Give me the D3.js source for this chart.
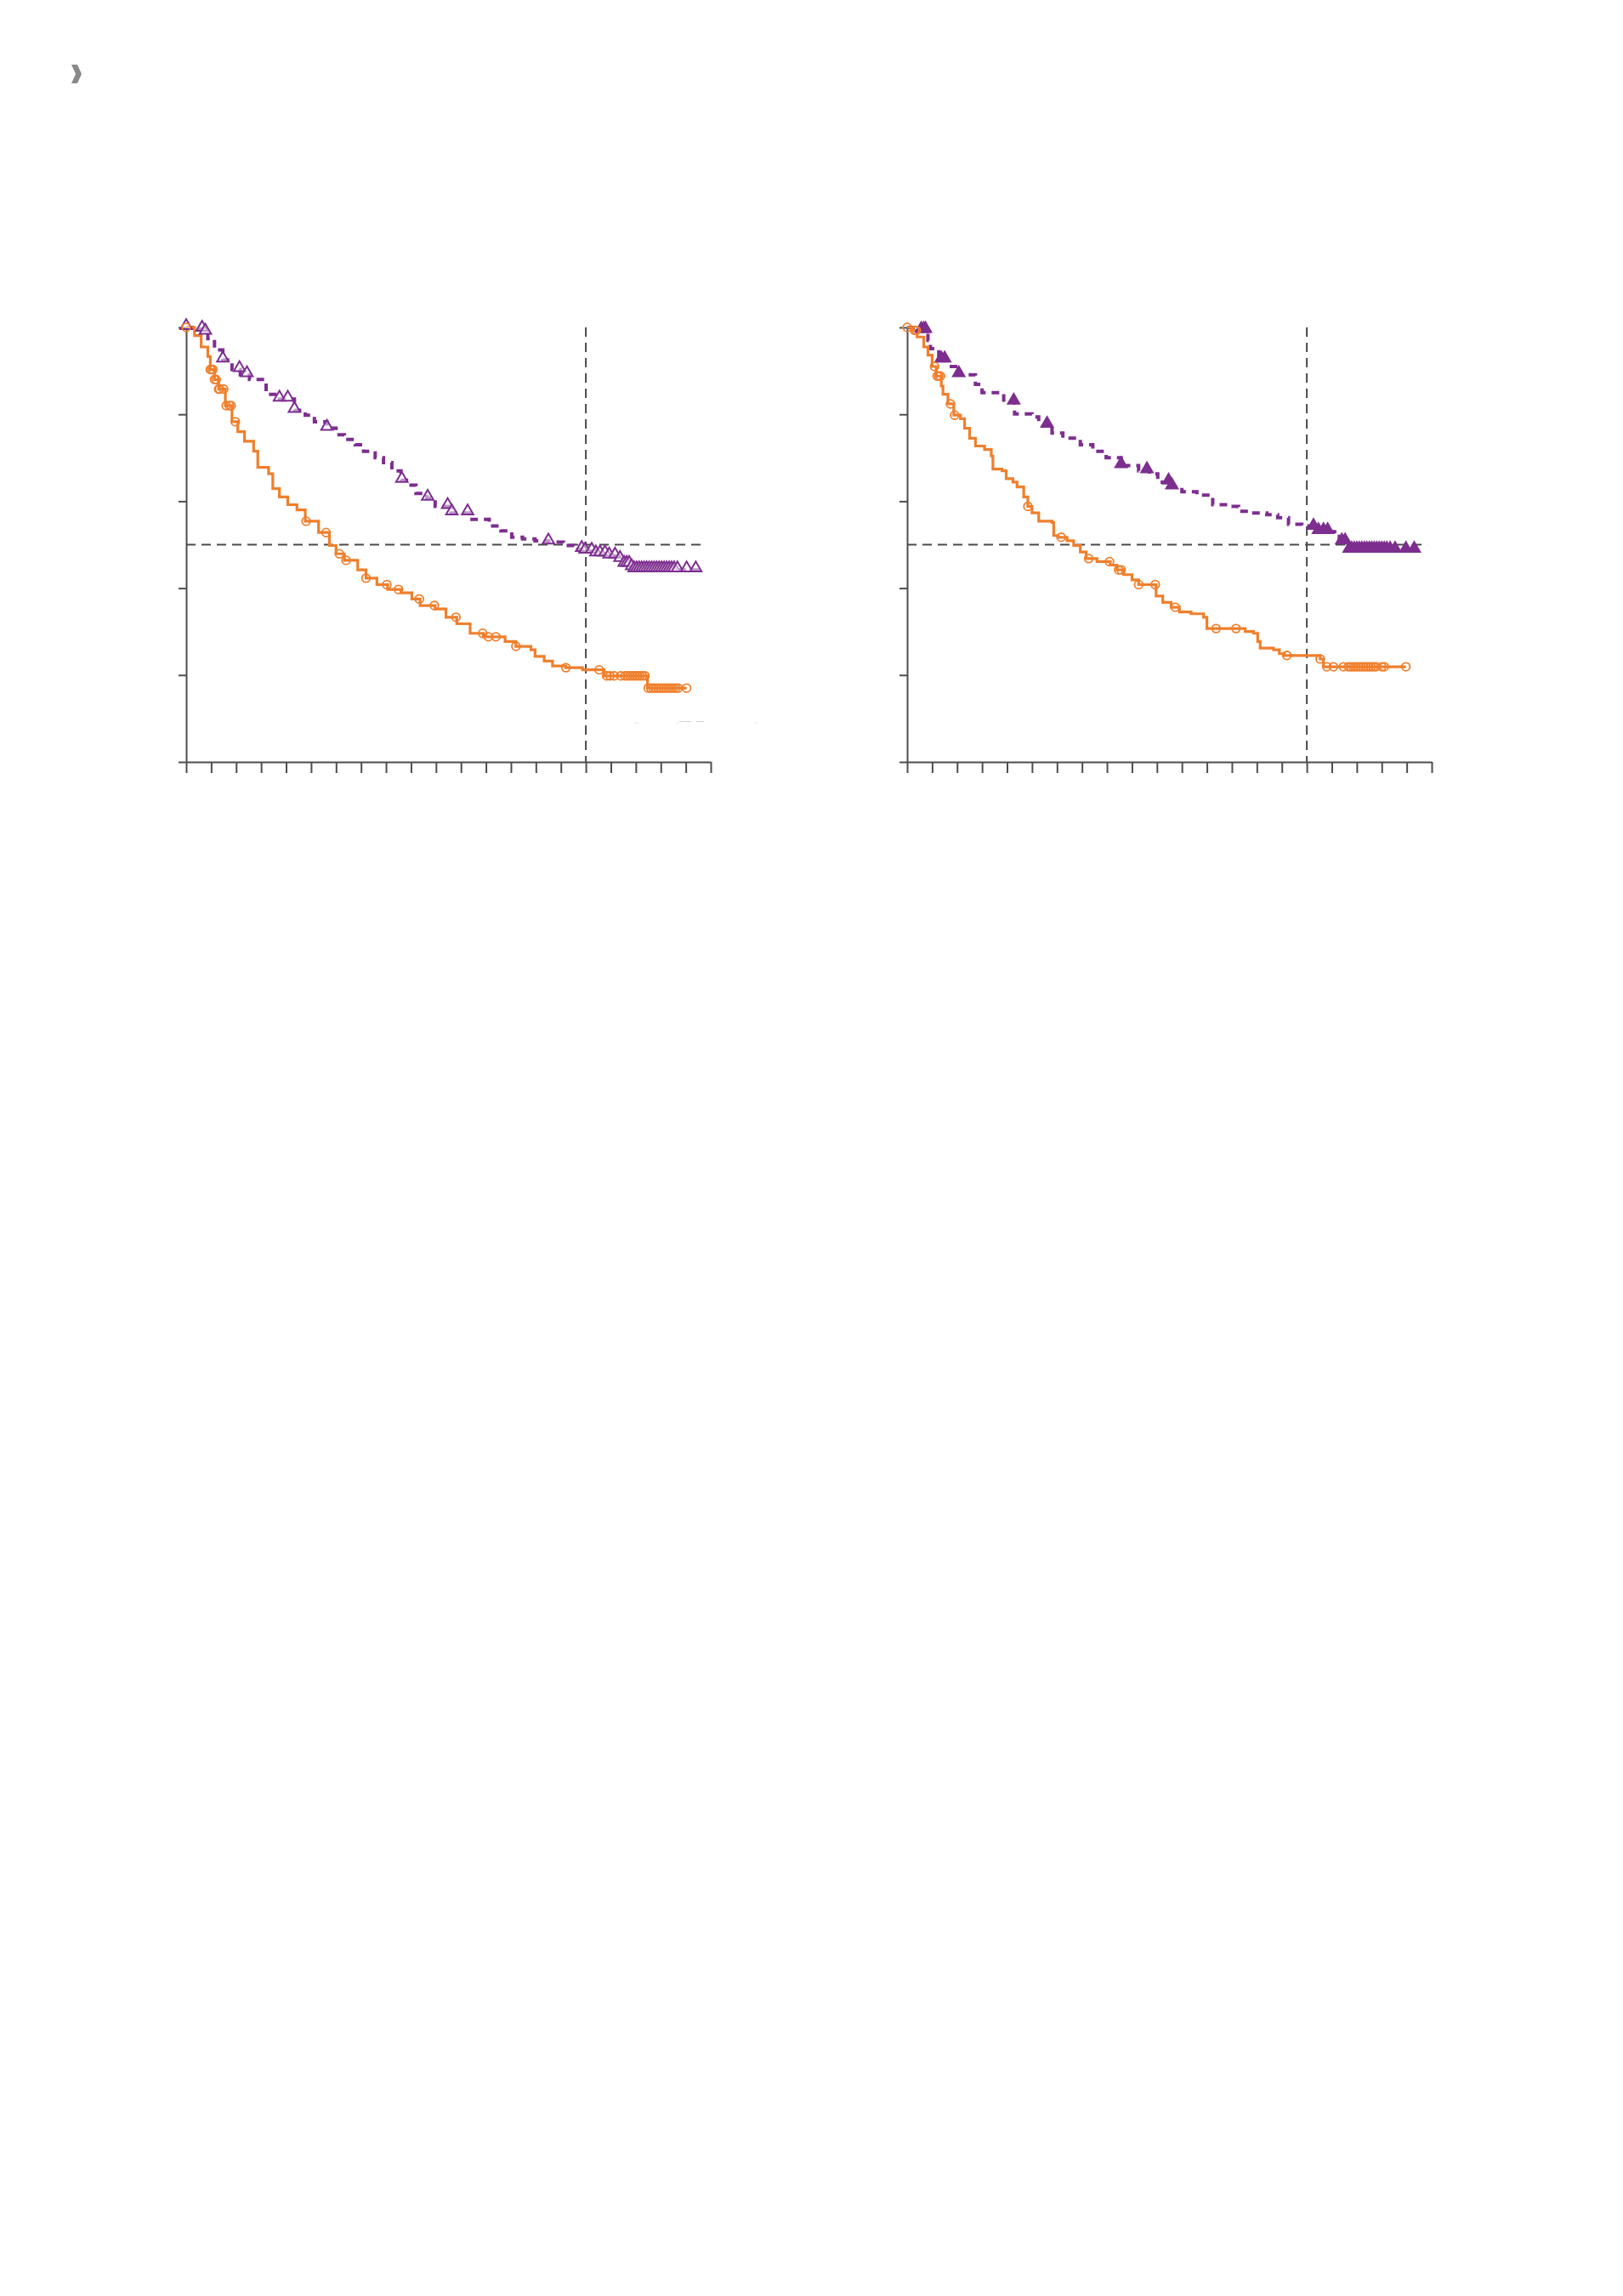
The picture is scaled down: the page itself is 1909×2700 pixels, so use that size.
<!DOCTYPE html>
<html>
<head>
<meta charset="utf-8">
<script src="https://cdn.jsdelivr.net/npm/d3@7"></script>
<style>
  html, body { margin: 0; padding: 0; background: #fff; }
  svg { display: block; }
</style>
</head>
<body>
<script>
// ---------- DATA ----------
// x: months (ticks every 3 months, 0..63); y: survival probability
const xTicks = d3.range(0, 64, 3);
const yTicks = [0, 0.2, 0.4, 0.6, 0.8, 1.0];
const landmarkTime = 48;
const medianLevel = 0.5;

// Left panel – orange (solid) KM steps [time, survival]
const leftOrangeSteps = [[0,1],[1.0,0.981],[1.8,0.955],[2.6,0.933],[2.9,0.903],[3.4,0.880],[3.9,0.858],[4.7,0.820],[5.5,0.783],[6.2,0.760],[7.0,0.738],[8.1,0.715],[8.6,0.678],[9.9,0.663],[10.4,0.629],[11.2,0.610],[12.2,0.592],[13.3,0.580],[14.3,0.554],[15.9,0.528],[17.2,0.498],[18.0,0.479],[19.0,0.464],[20.6,0.442],[21.6,0.423],[22.9,0.408],[24.2,0.397],[25.8,0.389],[27.1,0.375],[28.1,0.360],[29.9,0.352],[31.2,0.333],[32.5,0.318],[34.1,0.296],[35.7,0.288],[38.3,0.277],[39.6,0.266],[41.4,0.258],[41.9,0.243],[43.0,0.232],[44.0,0.221],[45.6,0.217],[47.6,0.212],[50.2,0.198],[55.4,0.170],[60.1,0.170]];
const leftOrangeCensor = [0,2.9,3.0,3.2,3.4,3.6,3.9,4.0,4.5,4.8,5.2,5.4,5.9,14.4,16.8,18.4,19.2,21.6,24.1,25.5,28.0,29.8,32.4,35.6,36.3,37.2,39.6,45.6,49.6,50.5,50.9,51.4,52.2,52.7,53.0,53.3,53.6,53.9,54.2,54.5,54.8,55.1,55.5,55.8,56.1,56.4,56.7,57.0,57.3,57.6,57.9,58.2,58.5,58.8,59.1,60.1];

// Left panel – purple (dashed) KM steps, open triangles
const leftPurpleSteps = [[0,1],[1.3,0.996],[2.1,0.989],[2.6,0.974],[3.4,0.948],[4.4,0.925],[5.5,0.903],[6.5,0.891],[7.6,0.880],[9.6,0.846],[11.2,0.835],[13.0,0.809],[14.3,0.798],[15.4,0.783],[16.9,0.768],[18.0,0.753],[19.0,0.742],[20.3,0.730],[21.3,0.715],[22.7,0.700],[23.7,0.689],[24.7,0.670],[25.8,0.648],[26.8,0.637],[27.6,0.618],[28.9,0.607],[29.9,0.588],[31.8,0.573],[34.1,0.558],[36.4,0.543],[37.8,0.532],[39.1,0.517],[40.4,0.513],[41.9,0.509],[43.5,0.506],[45.3,0.498],[46.6,0.489],[47.9,0.485],[49.2,0.479],[50.8,0.474],[51.8,0.466],[52.6,0.455],[53.4,0.447],[53.6,0.442],[61.7,0.442]];
const leftPurpleCensor = [0,1.9,2.3,4.4,6.4,7.3,11.2,12.2,13.0,16.9,25.9,29.0,31.4,31.9,33.8,43.5,47.5,47.9,48.7,49.2,49.7,50.3,50.8,51.5,52.1,52.6,52.9,53.2,53.5,53.8,54.1,54.4,54.7,55.0,55.3,55.6,55.9,56.2,56.5,56.8,57.1,57.4,57.7,58.0,58.3,58.6,59.0,60.1,61.2];

// Right panel – orange (solid) KM steps
const rightOrangeSteps = [[0,1],[0.7,0.993],[1.2,0.978],[2.0,0.955],[2.5,0.936],[3.0,0.910],[3.5,0.888],[4.1,0.865],[4.3,0.846],[4.9,0.824],[5.6,0.798],[6.4,0.790],[6.9,0.768],[7.5,0.745],[8.2,0.727],[9.3,0.719],[10.1,0.704],[10.3,0.674],[11.4,0.670],[11.9,0.652],[12.7,0.644],[13.2,0.633],[14.0,0.610],[14.5,0.588],[15.0,0.573],[15.8,0.554],[17.4,0.551],[17.6,0.521],[18.1,0.517],[19.2,0.509],[20.0,0.498],[20.8,0.483],[21.5,0.468],[22.8,0.461],[24.4,0.453],[25.2,0.442],[26.0,0.431],[27.0,0.419],[27.8,0.408],[29.9,0.382],[30.7,0.367],[31.7,0.356],[32.7,0.345],[34.1,0.341],[35.6,0.333],[36.0,0.307],[40.6,0.300],[41.6,0.296],[42.1,0.277],[42.4,0.262],[44.0,0.258],[44.7,0.249],[45.3,0.245],[49.6,0.237],[50.0,0.219],[59.9,0.219]];
const rightOrangeCensor = [0,0.9,1.1,3.3,3.6,3.8,4.0,5.2,5.7,14.5,18.5,21.8,24.3,25.4,25.7,27.8,29.8,32.2,37.1,39.5,45.6,49.6,50.4,51.2,52.4,53.0,53.3,53.6,53.9,54.2,54.5,54.8,55.1,55.4,55.7,56.0,56.3,57.0,57.3,59.9];

// Right panel – purple (dashed) KM steps, filled triangles
const rightPurpleSteps = [[0,1],[1.5,0.993],[2.5,0.970],[2.8,0.951],[3.8,0.925],[4.9,0.910],[6.2,0.891],[8.2,0.869],[9.0,0.850],[11.6,0.828],[12.9,0.801],[15.0,0.794],[15.8,0.783],[16.8,0.775],[17.4,0.757],[18.7,0.745],[20.8,0.730],[22.3,0.715],[23.9,0.700],[25.7,0.682],[27.8,0.670],[29.1,0.663],[30.1,0.644],[31.7,0.633],[33.0,0.622],[34.8,0.614],[36.7,0.592],[38.5,0.588],[39.8,0.577],[41.1,0.573],[43.2,0.569],[44.5,0.562],[45.8,0.547],[47.4,0.543],[48.4,0.540],[49.1,0.530],[51.9,0.506],[53.0,0.487],[61.2,0.487]];
const rightPurpleCensor = [1.7,2.0,2.2,4.1,4.5,6.2,12.8,16.8,25.7,28.8,31.4,31.8,48.8,49.4,50.0,50.5,52.2,52.6,53.1,53.4,53.7,54.0,54.3,54.6,54.9,55.2,55.5,55.8,56.1,56.4,56.7,57.0,57.3,57.6,58.0,58.6,59.9,60.9];

// ---------- STYLE ----------
const ORANGE = "#EF7F2C";
const PURPLE = "#7D2E8F";
const AXIS = "#4d4d4d";
const REF = "#4a4a4a";

const W = 1909, H = 2700;
const svg = d3.select("body").append("svg").attr("width", W).attr("height", H)
  .style("background", "#fff");

// small grey chevron at the top-left
svg.append("path")
  .attr("d", "M84,76 L91,76 L96,87 L91,98 L84,98 L89,87 Z")
  .attr("fill", "#8a8a8c");

const panelW = 617, panelH = 511, panelTop = 385;

function survAt(steps, t) {
  let s = 1;
  for (const [x, y] of steps) if (x <= t) s = y;
  return s;
}

function panel(left, orangeSteps, orangeCensor, purpleSteps, purpleCensor, filledTri, refEnd, faint) {
  const g = svg.append("g").attr("transform", `translate(${left},${panelTop})`);
  const x = d3.scaleLinear().domain([0, 63]).range([0, panelW]);
  const y = d3.scaleLinear().domain([0, 1]).range([panelH, 0]);

  // reference lines
  g.append("line")
    .attr("x1", x(0)).attr("x2", x(refEnd))
    .attr("y1", y(medianLevel)).attr("y2", y(medianLevel))
    .attr("stroke", REF).attr("stroke-width", 2).attr("stroke-dasharray", "11,7");
  g.append("line")
    .attr("x1", x(landmarkTime)).attr("x2", x(landmarkTime))
    .attr("y1", y(1)).attr("y2", y(0))
    .attr("stroke", REF).attr("stroke-width", 2).attr("stroke-dasharray", "11,7");

  // axes
  const xAxis = d3.axisBottom(x).tickValues(xTicks).tickSize(13).tickSizeOuter(0).tickFormat("");
  const yAxis = d3.axisLeft(y).tickValues(yTicks).tickSize(9).tickSizeOuter(0).tickFormat("");
  const gx = g.append("g").attr("transform", `translate(0,${panelH})`).call(xAxis);
  const gy = g.append("g").call(yAxis);
  [gx, gy].forEach(a => {
    a.selectAll("path, line").attr("stroke", AXIS).attr("stroke-width", 2);
  });

  const line = d3.line().x(d => x(d[0])).y(d => y(d[1])).curve(d3.curveStepAfter);

  // purple dashed curve
  g.append("path").datum(purpleSteps).attr("d", line)
    .attr("fill", "none").attr("stroke", PURPLE).attr("stroke-width", 4)
    .attr("stroke-dasharray", "9,7");
  // orange solid curve
  g.append("path").datum(orangeSteps).attr("d", line)
    .attr("fill", "none").attr("stroke", ORANGE).attr("stroke-width", 3.2);

  // censor markers
  const tri = d3.symbol().type(d3.symbolTriangle).size(80);
  g.append("g").selectAll("path").data(purpleCensor).join("path")
    .attr("d", tri)
    .attr("transform", t => `translate(${x(t)},${y(survAt(purpleSteps, t)) - 2})`)
    .attr("fill", filledTri ? PURPLE : "#fff")
    .attr("fill-opacity", filledTri ? 1 : 0.5)
    .attr("stroke", PURPLE).attr("stroke-width", 2);

  g.append("g").selectAll("circle").data(orangeCensor).join("circle")
    .attr("cx", t => x(t)).attr("cy", t => y(survAt(orangeSteps, t)))
    .attr("r", 4.8)
    .attr("fill", "none")
    .attr("stroke", ORANGE).attr("stroke-width", 1.8);

  if (faint) {
    g.append("text")
      .attr("x", 527).attr("y", 466)
      .attr("font-family", "Noto Sans, sans-serif").attr("font-size", 10)
      .attr("fill", "#d0d0d0")
      .attr("xml:space", "preserve")
      .style("white-space", "pre")
      .text("..                 .–—  —                       .");
  }
}

panel(219, leftOrangeSteps, leftOrangeCensor, leftPurpleSteps, leftPurpleCensor, false, 62.2, true);
panel(1067, rightOrangeSteps, rightOrangeCensor, rightPurpleSteps, rightPurpleCensor, true, 62.5, false);
</script>
</body>
</html>
